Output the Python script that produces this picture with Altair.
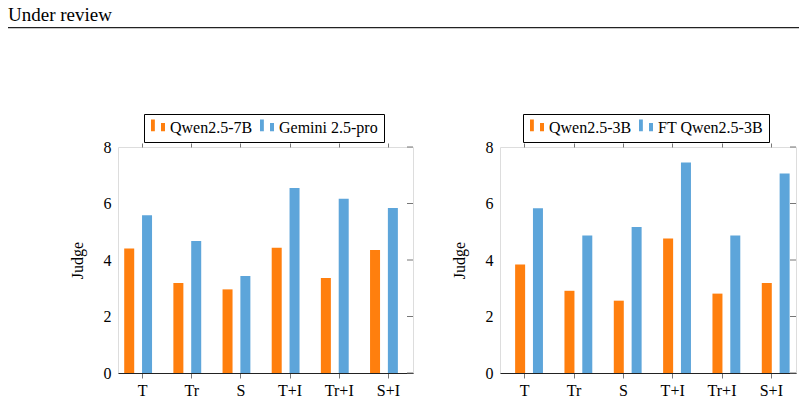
import altair as alt
import pandas as pd

SERIF = "Liberation Serif"

categories = ["T", "Tr", "S", "T+I", "Tr+I", "S+I"]

left_models = ["Qwen2.5-7B", "Gemini 2.5-pro"]
qwen_7b = [4.41, 3.19, 2.96, 4.43, 3.36, 4.35]
gemini_pro = [5.58, 4.67, 3.43, 6.55, 6.17, 5.84]

right_models = ["Qwen2.5-3B", "FT Qwen2.5-3B"]
qwen_3b = [3.84, 2.91, 2.56, 4.76, 2.81, 3.19]
ft_qwen_3b = [5.83, 4.87, 5.17, 7.45, 4.87, 7.06]

y_ticks = [0, 2, 4, 6, 8]
bar_colors = ["#ff7f0e", "#5da5da"]

# two-bar glyph used as the legend symbol
BAR_GLYPH = "M-1,-1.2H-0.45V0.45H-1Z M0.43,-0.7H1V0.45H0.43Z"


def panel(models, first, second, width, height, legend_x, header=False):
    df = pd.DataFrame({
        "cat": categories * 2,
        "model": [models[0]] * len(categories) + [models[1]] * len(categories),
        "judge": first + second,
    })
    x_scale = alt.Scale(paddingInner=0, paddingOuter=0)
    y_scale = alt.Scale(domain=[0, 8], nice=False)
    y_axis = alt.Axis(values=y_ticks, title="Judge", tickSize=0, grid=False,
                      domain=False, labelFont=SERIF, labelFontSize=16,
                      labelColor="black", labelPadding=7, titleFont=SERIF,
                      titleFontSize=16, titleFontWeight="normal",
                      titleColor="black", titlePadding=18)
    bars = alt.Chart(df).mark_bar(size=10).encode(
        x=alt.X("cat:N", sort=categories, scale=x_scale,
                axis=alt.Axis(title=None, labelAngle=0, tickSize=5, tickColor="#777",
                              domainColor="#222", labelFont=SERIF, labelFontSize=16,
                              labelColor="black", labelPadding=4)),
        xOffset=alt.XOffset("model:N", sort=models,
                            scale=alt.Scale(paddingInner=0, paddingOuter=0.757)),
        y=alt.Y("judge:Q", scale=y_scale, axis=y_axis),
        color=alt.Color("model:N", sort=models,
                        scale=alt.Scale(domain=models, range=bar_colors),
                        legend=alt.Legend(title=None, orient="none", legendX=legend_x,
                                          legendY=-33, direction="horizontal", columns=2,
                                          strokeColor="black", fillColor="white",
                                          padding=6, labelFont=SERIF, labelFontSize=16,
                                          labelColor="black", symbolType=BAR_GLYPH,
                                          symbolSize=196, symbolStrokeWidth=0,
                                          labelOffset=4, columnPadding=6)),
    )

    # outward ticks along the top edge of the frame
    top_ticks = alt.Chart(pd.DataFrame({"cat": categories})).mark_point(opacity=0).encode(
        x=alt.X("cat:N", sort=categories, scale=x_scale,
                axis=alt.Axis(orient="top", labels=False, title=None, domain=False,
                              tickSize=4, tickColor="#777")),
    )

    # inward ticks along the right edge of the frame
    right_ticks = alt.Chart(pd.DataFrame({"judge": y_ticks})).mark_rule(
        color="#777", strokeWidth=1).encode(
        y=alt.Y("judge:Q", scale=y_scale, axis=y_axis),
        x=alt.value(width - 6),
        x2=alt.value(width),
    )

    layers = [bars, top_ticks, right_ticks]

    if header:
        head_df = pd.DataFrame({"label": ["Under review"]})
        head_text = alt.Chart(head_df).mark_text(
            align="left", baseline="alphabetic", font=SERIF, fontSize=19, color="black"
        ).encode(text="label:N", x=alt.value(-110), y=alt.value(-126))
        head_rule = alt.Chart(head_df).mark_rule(color="#222", strokeWidth=1.2).encode(
            x=alt.value(-110), x2=alt.value(681), y=alt.value(-119.3))
        # fixes the page origin at the top-left corner
        origin = alt.Chart(head_df).mark_rect(opacity=0).encode(
            x=alt.value(-117), x2=alt.value(-116), y=alt.value(-146), y2=alt.value(-145))
        layers += [head_text, head_rule, origin]

    return alt.layer(*layers).resolve_axis(x="independent").properties(
        width=width, height=height)


left = panel(left_models, qwen_7b, gemini_pro, 295, 226, 26, header=True)
right = panel(right_models, qwen_3b, ft_qwen_3b, 296, 226, 23)

chart = alt.hconcat(left, right, spacing=87, bounds="flush").resolve_scale(
    color="independent").resolve_legend(color="independent").properties(
    padding=0).configure_view(stroke="#555", strokeWidth=1).configure(background="white")

chart.save("out.html", embed_options={"renderer": "svg", "actions": False})
